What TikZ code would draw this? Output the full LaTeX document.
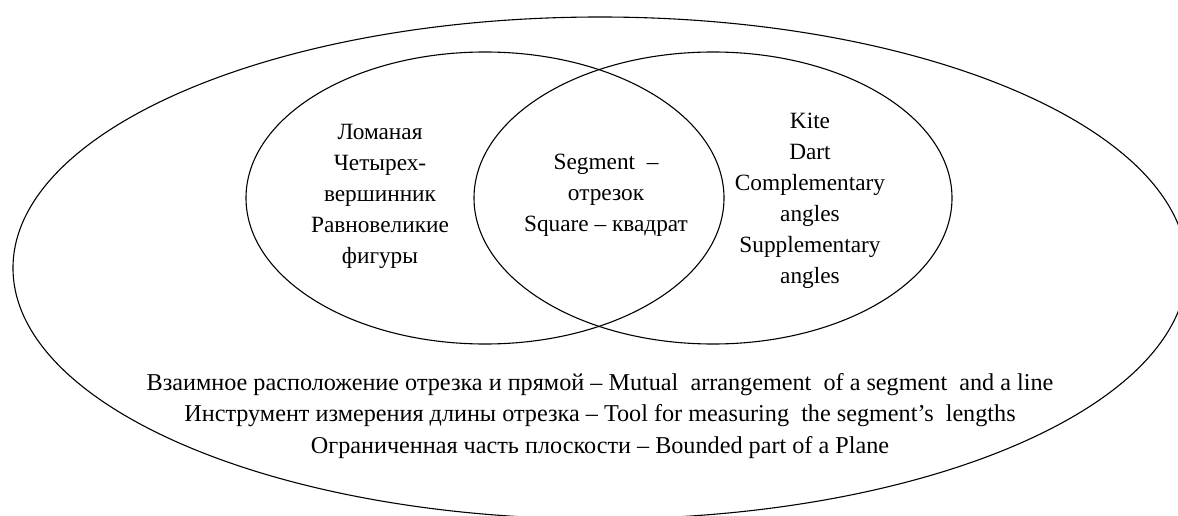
\documentclass[tikz,border=0pt]{standalone}
\usepackage{fontspec}
\setmainfont{Liberation Serif}
\usetikzlibrary{shapes.geometric}
\tikzset{
  set/.style={draw, ellipse, line width=1.1pt, inner sep=0pt},
  lbl/.style={align=center, inner sep=0pt, font=\fontsize{23.3}{31}\selectfont},
  wide/.style={align=center, inner sep=0pt, font=\fontsize{24.2}{31.5}\selectfont}
}
\begin{document}
\begin{tikzpicture}[x=1pt,y=-1pt]
\useasboundingbox (0,0) rectangle (1178,516);
\clip (0,0) rectangle (1178,516);
\node[set, minimum width=1174pt, minimum height=502pt] (universe) at (600,268) {};
\node[set, minimum width=478pt, minimum height=292pt] (leftset) at (485,198) {};
\node[set, minimum width=478pt, minimum height=292pt] (rightset) at (713,198) {};
\node[lbl] (lefttext) at (380,196) {Ломаная\\Четырех-\\вершинник\\Равновеликие\\фигуры};
\node[lbl] (midtext) at (606,195) {Segment\ \ –\\отрезок\\Square – квадрат};
\node[lbl] (righttext) at (810,201) {Kite\\Dart\\Complementary\\angles\\Supplementary\\angles};
\node[wide] (bottomtext) at (600,416) {Взаимное расположение отрезка и прямой – Mutual\ \ arrangement\ \ of a segment\ \ and a line\\Инструмент измерения длины отрезка – Tool for measuring\ \ the segment’s\ \ lengths\\Ограниченная часть плоскости – Bounded part of a Plane};
\end{tikzpicture}
\end{document}
